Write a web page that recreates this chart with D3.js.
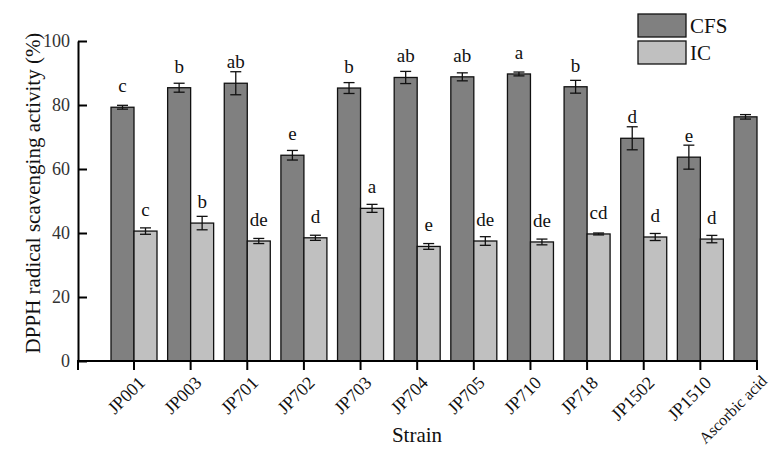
<!DOCTYPE html>
<html lang="en">
<head>
    <meta charset="UTF-8">
    <title>DPPH radical scavenging</title>
    <script src="https://d3js.org/d3.v7.min.js"></script>
    <style>
        body { margin: 0; background: #fff; }
        svg text { font-family: "Times New Roman", "Liberation Serif", Tinos, "DejaVu Serif", serif !important; }
    </style>
</head>
<body>
    <div id="chart"></div>
    <script>
        // 数据
        const strains = ["JP001", "JP003", "JP701", "JP702", "JP703", "JP704", "JP705", "JP710", "JP718", "JP1502", "JP1510", "Ascorbic acid"]
        const cfsValues = [79.3, 85.4, 86.8, 64.3, 85.3, 88.6, 88.8, 89.7, 85.7, 69.6, 63.7, 76.3]
        const cfsErrors = [0.6, 1.4, 3.6, 1.5, 1.7, 1.9, 1.25, 0.6, 2.0, 3.6, 3.75, 0.7]
        const cfsLetters = ["c", "b", "ab", "e", "b", "ab", "ab", "a", "b", "d", "e", ""]
        // IC 没有抗坏血酸
        const icValues = [40.6, 43.1, 37.5, 38.5, 47.7, 35.8, 37.5, 37.2, 39.7, 38.75, 38.1]
        const icErrors = [1.0, 2.1, 0.8, 0.8, 1.25, 0.9, 1.35, 0.9, 0.3, 1.1, 1.15]
        const icLetters = ["c", "b", "de", "d", "a", "e", "de", "de", "cd", "d", "d"]
        const yTicks = [0, 20, 40, 60, 80, 100]
        const seriesNames = ["CFS", "IC"]
        const seriesColors = ["#808080", "#c0c0c0"]

        const width = 771, height = 452
        const barW = 23
        const FONT = '"Times New Roman", "Liberation Serif", serif'

        const svg = d3.select("#chart").append("svg")
            .attr("width", width)
            .attr("height", height)
            .attr("font-family", FONT)

        const x = d3.scalePoint().domain(strains).range([134, 757])
        const y = d3.scaleLinear().domain([0, 100]).range([361, 41])

        function drawSeries(values, errors, letters, color, offset) {
            const g = svg.append("g")
            const rows = values.map((v, i) => ({name: strains[i], v: v, e: errors[i], l: letters[i]}))

            g.selectAll("rect").data(rows).join("rect")
                .attr("x", d => x(d.name) + offset)
                .attr("y", d => y(d.v))
                .attr("width", barW)
                .attr("height", d => y(0) - y(d.v))
                .attr("fill", color)
                .attr("stroke", "#111")
                .attr("stroke-width", 1.3)

            // 误差线
            const eb = g.selectAll("g.err").data(rows).join("g").attr("class", "err")
                .attr("stroke", "#111").attr("stroke-width", 1.3)
            eb.append("line")
                .attr("x1", d => x(d.name) + offset + barW / 2)
                .attr("x2", d => x(d.name) + offset + barW / 2)
                .attr("y1", d => y(d.v + d.e))
                .attr("y2", d => y(d.v - d.e))
            eb.append("line")
                .attr("x1", d => x(d.name) + offset + barW / 2 - 5.5)
                .attr("x2", d => x(d.name) + offset + barW / 2 + 5.5)
                .attr("y1", d => y(d.v + d.e))
                .attr("y2", d => y(d.v + d.e))
            eb.append("line")
                .attr("x1", d => x(d.name) + offset + barW / 2 - 5.5)
                .attr("x2", d => x(d.name) + offset + barW / 2 + 5.5)
                .attr("y1", d => y(d.v - d.e))
                .attr("y2", d => y(d.v - d.e))

            // 显著性字母
            g.selectAll("text").data(rows).join("text")
                .attr("x", d => x(d.name) + offset + barW / 2)
                .attr("y", d => y(d.v) - 15)
                .attr("text-anchor", "middle")
                .attr("font-size", 19)
                .attr("fill", "#111")
                .text(d => d.l)
        }

        drawSeries(cfsValues, cfsErrors, cfsLetters, seriesColors[0], -barW)
        drawSeries(icValues, icErrors, icLetters, seriesColors[1], 0)

        // Y 轴，刻度朝内
        const yAxis = svg.append("g")
            .attr("transform", "translate(78,0)")
            .call(d3.axisRight(y).tickValues(yTicks).tickSize(9).tickSizeOuter(0).tickFormat(d3.format("d")))
        yAxis.attr("font-family", FONT)
        yAxis.select(".domain").attr("stroke", "#000").attr("stroke-width", 2)
        yAxis.selectAll(".tick line").attr("stroke", "#000").attr("stroke-width", 2)
        yAxis.selectAll(".tick text")
            .attr("x", -8)
            .attr("text-anchor", "end")
            .attr("font-size", 18)
            .attr("fill", "#333")

        // X 轴
        const xAxis = svg.append("g")
            .attr("transform", "translate(0,361)")
        xAxis.append("line")
            .attr("x1", 77).attr("x2", 758)
            .attr("stroke", "#000").attr("stroke-width", 2)
        const xt = xAxis.selectAll("g.tick").data(strains).join("g").attr("class", "tick")
            .attr("transform", d => "translate(" + x(d) + ",0)")
        xt.append("line").attr("y2", 9).attr("stroke", "#000").attr("stroke-width", 2)
        // 最后一个标签较长，略缩小以免超出底边
        xt.append("text")
            .attr("transform", (d, i) => i === strains.length - 1 ? "translate(11,21) rotate(-45)" : "translate(12,23) rotate(-45)")
            .attr("text-anchor", "end")
            .attr("font-size", (d, i) => i === strains.length - 1 ? 16 : 18)
            .attr("fill", "#111")
            .text(d => d)
        xAxis.append("line")
            .attr("x1", 78).attr("x2", 78).attr("y2", 9)
            .attr("stroke", "#000").attr("stroke-width", 2)

        // 轴标题
        svg.append("text")
            .attr("transform", "translate(40,193) rotate(-90)")
            .attr("text-anchor", "middle")
            .attr("font-size", 21)
            .attr("fill", "#111")
            .text("DPPH radical scavenging activity (%)")
        svg.append("text")
            .attr("x", 417).attr("y", 442)
            .attr("text-anchor", "middle")
            .attr("font-size", 21)
            .attr("fill", "#111")
            .text("Strain")

        // 图例
        const legend = svg.append("g").selectAll("g").data(seriesNames).join("g")
            .attr("transform", (d, i) => "translate(638," + (14 + i * 27) + ")")
        legend.append("rect")
            .attr("width", 48).attr("height", 23)
            .attr("fill", (d, i) => seriesColors[i])
            .attr("stroke", "#111").attr("stroke-width", 1.3)
        legend.append("text")
            .attr("x", 52).attr("y", 19)
            .attr("font-size", 21)
            .attr("fill", "#111")
            .text(d => d)
    </script>
</body>
</html>
